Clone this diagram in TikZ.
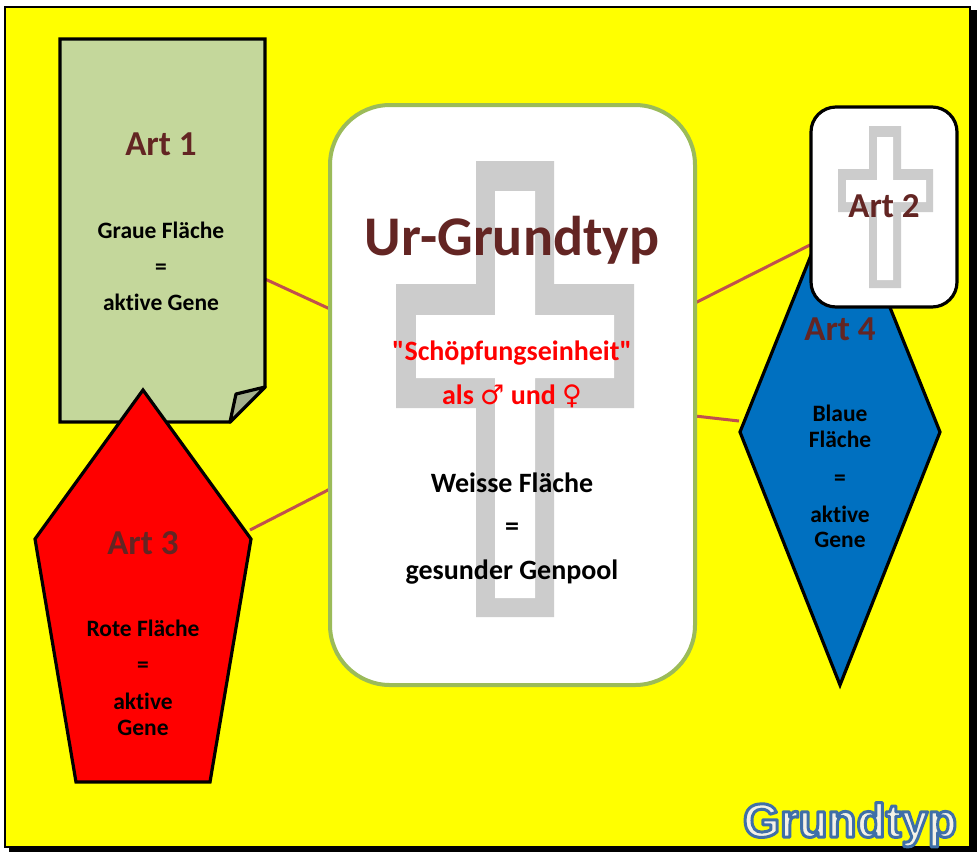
\documentclass[tikz,border=0pt]{standalone}
\usepackage{fontspec}
\setmainfont{Carlito}[Ligatures={CommonOff,TeXOff}]
\newfontfamily\headfont{Liberation Sans}
\newfontfamily\symfont{DejaVu Sans}

\definecolor{bgyellow}{HTML}{FFFF00}
\definecolor{docgreen}{HTML}{C4D79B}
\definecolor{flapgreen}{HTML}{A3B08C}
\definecolor{artbrown}{HTML}{632523}
\definecolor{linkred}{HTML}{C0504D}
\definecolor{framegreen}{HTML}{9BBB59}
\definecolor{crossgray}{HTML}{CCCCCC}
\definecolor{artblue}{HTML}{0070C0}

% outlined lettering: blue stroke, cream fill (PDF text render mode 2)
\newcommand{\outlinedword}[1]{%
  \special{pdf:literal direct q 2 Tr 3 w 1 j 0.247 0.435 0.659 RG 0.953 0.945 0.902 rg}%
  #1%
  \special{pdf:literal direct Q}}

\tikzset{
  shapeline/.style={draw=black, line width=3.2, line join=miter},
  link/.style={draw=linkred, line width=3},
  arttitle/.style={font=\fontsize{35}{40}\selectfont\bfseries, text=artbrown, anchor=base, inner sep=0},
  arttext/.style={font=\fontsize{23.5}{28}\selectfont\bfseries, text=black, anchor=base, inner sep=0},
  maintext/.style={font=\fontsize{28}{32}\selectfont\bfseries, anchor=base, inner sep=0},
  headtext/.style={font=\fontsize{47.5}{52}\selectfont\headfont\bfseries, anchor=base, inner sep=0},
}

\begin{document}
\begin{tikzpicture}[x=1pt, y=-1pt]
\useasboundingbox (0,0) rectangle (979,852);

% frame with drop shadow
\fill[black] (9,10) rectangle (977,852);
\draw[fill=bgyellow, line width=1.6] (5,7) rectangle (970,847);

% connection points on the shapes
\coordinate (a1out) at (265,279);
\coordinate (a3out) at (250,530);
\coordinate (a2in)  at (810,245);
\coordinate (a4in)  at (739,421);
\coordinate (c-a1)  at (330,309);
\coordinate (c-a3)  at (330,489);
\coordinate (c-a2)  at (695,303);
\coordinate (c-a4)  at (695,416);

% connectors
\draw[link] (a1out) -- (c-a1);
\draw[link] (a3out) -- (c-a3);
\draw[link] (c-a2) -- (a2in);
\draw[link] (c-a4) -- (a4in);

% Art 1: folded document
\draw[shapeline, fill=docgreen] (60,39) -- (265,39) -- (265,387) -- (230,422) -- (60,422) -- cycle;
\draw[shapeline, fill=flapgreen, line join=round] (265,387) -- (236,394) -- (230,422) -- cycle;
\node[arttitle] (t1) at (161,155) {Art 1};
\node[arttext] (t1a) at (161,238) {Graue Fläche};
\node[arttext] (t1b) at (161,274) {=};
\node[arttext] (t1c) at (161,310) {aktive Gene};

% Art 3: pentagon
\draw[shapeline, fill=red] (143,390) -- (251,539) -- (210,782) -- (76,782) -- (35,539) -- cycle;
\node[arttitle] (t3) at (143,554) {Art 3};
\node[arttext] (t3a) at (143,636) {Rote Fläche};
\node[arttext] (t3b) at (143,672) {=};
\node[arttext] (t3c) at (143,709) {aktive};
\node[arttext] (t3d) at (143,735) {Gene};

% central type box
\draw[draw=framegreen, line width=4, fill=white, rounded corners=60] (330,105) rectangle (695,685);
\fill[crossgray] (476,161) -- (554,161) -- (554,284) -- (634,284) -- (634,408) -- (554,408)
  -- (554,617) -- (476,617) -- (476,408) -- (396,408) -- (396,284) -- (476,284) -- cycle;
\fill[white] (495,191) -- (535,191) -- (535,315) -- (614,315) -- (614,378) -- (535,378)
  -- (535,598) -- (495,598) -- (495,378) -- (416,378) -- (416,315) -- (495,315) -- cycle;
\node[font=\fontsize{56}{60}\selectfont\bfseries, text=artbrown, anchor=base, inner sep=0] (ur) at (512,255) {Ur-Grundtyp};
\node[maintext, text=red] (se) at (512,360) {"Schöpfungseinheit"};
\node[maintext, text=red] (sx) at (512,404) {als {\symfont\mdseries\fontsize{27}{30}\selectfont ♂} und {\symfont\mdseries\fontsize{27}{30}\selectfont ♀}};
\node[maintext] (wf) at (512,492) {Weisse Fläche};
\node[maintext] (eq) at (512,535) {=};
\node[maintext] (gp) at (512,579) {gesunder Genpool};

% Art 4: diamond
\draw[shapeline, fill=artblue] (840,183) -- (940,432) -- (840,685) -- (740,432) -- cycle;
\node[arttitle] (t4) at (840,340) {Art 4};
\node[arttext] (t4a) at (840,421) {Blaue};
\node[arttext] (t4b) at (840,447) {Fläche};
\node[arttext] (t4c) at (840,485) {=};
\node[arttext] (t4d) at (840,522) {aktive};
\node[arttext] (t4e) at (840,547) {Gene};

% Art 2: small card with cross
\draw[shapeline, fill=white, rounded corners=25] (811,107) rectangle (957,307);
\fill[crossgray] (869,126) -- (901,126) -- (901,169) -- (933,169) -- (933,212) -- (901,212)
  -- (901,288) -- (869,288) -- (869,212) -- (838,212) -- (838,169) -- (869,169) -- cycle;
\fill[white] (877,137) -- (893,137) -- (893,180) -- (926,180) -- (926,202) -- (893,202)
  -- (893,280) -- (877,280) -- (877,202) -- (846,202) -- (846,180) -- (877,180) -- cycle;
\node[arttitle] (t2) at (884,217) {Art 2};

% corner heading: outlined lettering
\node[headtext] (gt) at (850,837) {\outlinedword{Grundtyp}};
\end{tikzpicture}
\end{document}
